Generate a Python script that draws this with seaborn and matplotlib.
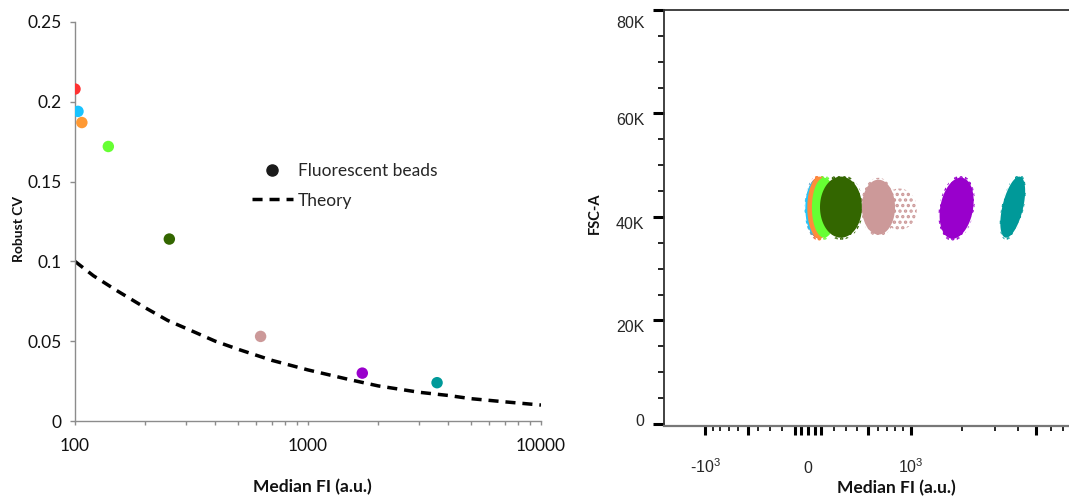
import numpy as np
import pandas as pd
import seaborn as sns
import matplotlib
matplotlib.use("Agg")
import matplotlib.pyplot as plt
import matplotlib.transforms as mtransforms
from matplotlib.lines import Line2D

# ---------------- data ----------------
bead_fi = [100, 103, 107, 139, 254, 626, 1710, 3580]
bead_cv = [0.208, 0.194, 0.187, 0.172, 0.114, 0.053, 0.030, 0.024]
bead_names = ["red", "cyan", "orange", "light green", "dark green", "pink", "purple", "teal"]
bead_colors = ["#ff3333", "#19c3ff", "#ff9933", "#66ff33", "#336600", "#cc9999", "#9900cc", "#009999"]

theory_fi = [100, 120, 150, 200, 250, 300, 400, 500, 700, 1000, 1500, 2000, 3000, 4000, 5000, 7000, 10000]
theory_cv = [0.100, 0.091, 0.082, 0.071, 0.063, 0.058, 0.050, 0.045, 0.038, 0.032, 0.026, 0.022,
             0.018, 0.016, 0.014, 0.012, 0.010]

left_yticks = [0, 0.05, 0.1, 0.15, 0.2, 0.25]
left_yticklabels = ["0", "0.05", "0.1", "0.15", "0.2", "0.25"]
left_xticks = [100, 1000, 10000]
left_xticklabels = ["100", "1000", "10000"]

# right panel: bead populations (FI extent, FSC-A extent)
pop_names = ["red", "cyan", "orange", "light green", "dark green", "pink tail", "pink", "purple", "teal"]
pop_colors = ["#ff3b30", "#1ec8ff", "#ff8c3a", "#66ff33", "#336600", "#cc9999", "#cc9999", "#9900cc", "#009999"]
pop_solid = [True, True, True, True, True, False, True, True, True]
pop_x_lo = [-15, -20, -5, 30, 92, 640, 441, 1500, 3300]
pop_x_hi = [170, 160, 180, 220, 441, 1094, 794, 2295, 4280]
pop_y_lo = [35900, 36200, 35800, 36000, 36000, 37500, 36600, 35800, 36000]
pop_y_hi = [47600, 47300, 47800, 47600, 47800, 45500, 47200, 47600, 47800]
pop_tilt = [0, 0, 0, 0, 0, 0, 0, 0.05, 0.08]

right_yticks = [0, 20000, 40000, 60000, 80000]
right_yticklabels = ["0", "20K", "40K", "60K", "80K"]
right_xticks = [-1000, -500, -100, -50, 0, 50, 100, 500, 1000, 5000]
right_xticklabels = ["-10$^{3}$", "", "", "", "0", "", "", "", "10$^{3}$", ""]
right_xminor = [-900, -800, -700, -600, -400, -300, -200, 200, 300, 400, 600, 700, 800, 900,
                2000, 3000, 4000, 6000, 7000, 8000, 9000]

# ---------------- style ----------------
sns.set_style("white")
plt.rcParams["font.family"] = ["Lato", "DejaVu Sans"]
plt.rcParams["mathtext.fontset"] = "custom"
plt.rcParams["mathtext.rm"] = "Liberation Sans"
plt.rcParams["mathtext.it"] = "Liberation Sans"
plt.rcParams["mathtext.bf"] = "Liberation Sans:bold"
plt.rcParams["hatch.linewidth"] = 1.6

W, H = 1069, 497
fig = plt.figure(figsize=(W / 100, H / 100), dpi=100)
fig.patch.set_facecolor("white")

# ---------------- left panel ----------------
axL = fig.add_axes([75 / W, 1 - 421 / H, 466 / W, 399 / H])
df_beads = pd.DataFrame({"fi": bead_fi, "cv": bead_cv, "bead": bead_names})
df_theory = pd.DataFrame({"fi": theory_fi, "cv": theory_cv})

sns.lineplot(data=df_theory, x="fi", y="cv", ax=axL, color="black", lw=2.5,
             dashes=False, legend=False)
axL.lines[-1].set_dashes([2.9, 2.0])
sns.scatterplot(data=df_beads, x="fi", y="cv", hue="bead", palette=bead_colors,
                hue_order=bead_names, s=68, linewidth=0, ax=axL, legend=False, zorder=3)

axL.set_xscale("log")
axL.set_xlim(100, 10000)
axL.set_ylim(0, 0.25)
axL.set_yticks(left_yticks)
axL.set_yticklabels(left_yticklabels)
axL.set_xticks(left_xticks)
axL.set_xticklabels(left_xticklabels)
axL.xaxis.set_minor_locator(matplotlib.ticker.LogLocator(base=10, subs=np.arange(2, 10)))
axL.xaxis.set_minor_formatter(matplotlib.ticker.NullFormatter())
for s in ["top", "right"]:
    axL.spines[s].set_visible(False)
for s in ["left", "bottom"]:
    axL.spines[s].set_color("#8c8c8c")
    axL.spines[s].set_linewidth(1.0)
axL.tick_params(axis="y", which="major", direction="out", length=3.6, width=1.0, color="#8c8c8c",
                labelsize=12.5, labelcolor="#111111", pad=6, left=True)
axL.tick_params(axis="x", which="both", direction="out", length=3.0, width=1.0, color="#8c8c8c",
                labelsize=12.5, labelcolor="#111111", pad=9, bottom=True)
axL.set_xlabel("Median FI (a.u.)", fontsize=12.5, fontweight="bold", color="#111111")
axL.set_ylabel("Robust CV", fontsize=10, fontweight="bold", color="#111111")
axL.xaxis.set_label_coords(0.509, -0.145)
axL.yaxis.set_label_coords(-0.108, 0.48)

handles = [Line2D([], [], marker="o", color="#1a1a1a", linestyle="none", markersize=8),
           Line2D([], [], color="black", lw=2.5, dashes=[2.9, 2.0])]
fig.legend(handles, ["Fluorescent beads", "Theory"], loc="center left",
           bbox_to_anchor=(252 / W, 1 - 186 / H), frameon=False, fontsize=12.5,
           handlelength=2.36, handletextpad=0.3, labelspacing=0.75, borderpad=0, borderaxespad=0)

# ---------------- right panel ----------------
C = 625.0
fwd = lambda x: np.arcsinh(np.asarray(x) / C)
inv = lambda u: C * np.sinh(np.asarray(u))

axR = fig.add_axes([664 / W, 1 - 426 / H, 464 / W, 416 / H])
axR.set_xscale("function", functions=(fwd, inv))
axR.set_xlim(-1750, 15400)
axR.set_ylim(-400, 80000)

t = np.linspace(0, 2 * np.pi, 181)


def pop_outline(xl, xh, yl, yh, tl, grow=1.0):
    ul, uh = fwd(xl), fwd(xh)
    u = (ul + uh) / 2 + grow * (uh - ul) / 2 * np.cos(t) + tl * np.sin(t)
    y = (yl + yh) / 2 + grow * (yh - yl) / 2 * np.sin(t)
    return inv(u), y


# speckled halos first (sparse events around every population)
for c, solid, xl, xh, yl, yh, tl in zip(pop_colors, pop_solid, pop_x_lo, pop_x_hi,
                                         pop_y_lo, pop_y_hi, pop_tilt):
    xs, ys = pop_outline(xl, xh, yl, yh, tl, grow=1.0 if not solid else 1.07)
    axR.fill(xs, ys, facecolor="none", edgecolor=c, hatch="...", lw=0, zorder=1)
# dense cores
for c, solid, xl, xh, yl, yh, tl in zip(pop_colors, pop_solid, pop_x_lo, pop_x_hi,
                                         pop_y_lo, pop_y_hi, pop_tilt):
    if solid:
        xs, ys = pop_outline(xl, xh, yl, yh, tl)
        axR.fill(xs, ys, color=c, lw=0, zorder=2)

axR.set_yticks(right_yticks)
axR.set_yticklabels(right_yticklabels)
axR.yaxis.set_minor_locator(matplotlib.ticker.MultipleLocator(5000))
axR.set_xticks(right_xticks)
axR.set_xticklabels(right_xticklabels)
axR.set_xticks(right_xminor, minor=True)
axR.xaxis.set_minor_formatter(matplotlib.ticker.NullFormatter())

axR.spines["right"].set_visible(False)
axR.spines["left"].set_color("#333333")
axR.spines["left"].set_linewidth(1.3)
axR.spines["top"].set_color("#333333")
axR.spines["top"].set_linewidth(1.3)
axR.spines["bottom"].set_color("#777777")
axR.spines["bottom"].set_linewidth(1.6)

axR.tick_params(axis="y", which="major", direction="out", length=8, width=2.2, color="black",
                labelsize=11.5, pad=6, left=True)
axR.tick_params(axis="y", which="minor", direction="out", length=4.3, width=1.2, color="black",
                left=True)
axR.tick_params(axis="x", which="major", direction="out", length=6.5, width=2.2, color="black",
                labelsize=11.5, pad=27, bottom=True)
axR.tick_params(axis="x", which="minor", direction="out", length=3.8, width=1.2, color="black",
                bottom=True)
ylab_shift = [-4, 6, 6, 6, 12]
for lab, dy in zip(axR.get_yticklabels(), ylab_shift):
    lab.set_fontfamily("Liberation Sans")
    lab.set_transform(lab.get_transform() + mtransforms.ScaledTranslation(0, -dy / 100, fig.dpi_scale_trans))
for lab in axR.get_xticklabels():
    lab.set_fontfamily("Liberation Sans")
    lab.set_verticalalignment("baseline")

axR.set_xlabel("Median FI (a.u.)", fontsize=12.5, fontweight="bold", color="#111111")
axR.set_ylabel("FSC-A", fontsize=10.5, fontweight="bold", color="#111111")
axR.xaxis.set_label_coords(0.5, -0.13)
axR.yaxis.set_label_coords(-0.133, 0.512)

fig.savefig("out.png", dpi=100, facecolor="white")
